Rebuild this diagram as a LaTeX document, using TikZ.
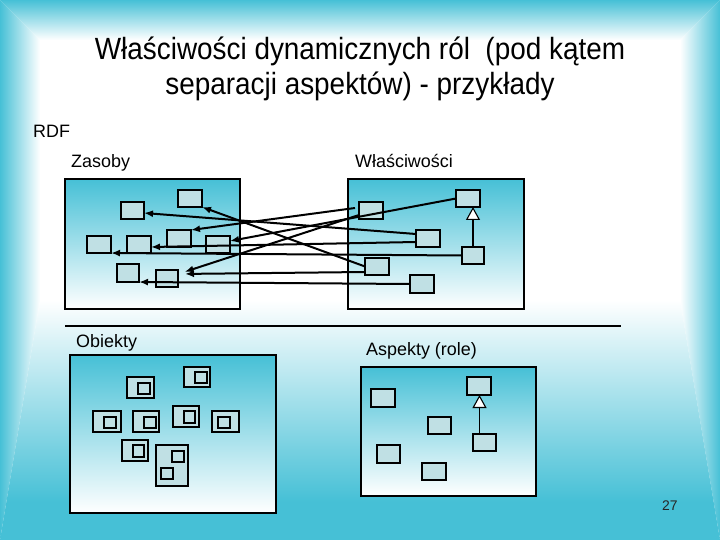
\documentclass[tikz,border=0pt]{standalone}
\usepackage{fontspec}
\setmainfont{Liberation Sans}
\usetikzlibrary{arrows.meta}
\definecolor{bgteal}{RGB}{70,192,214}
\definecolor{nodefill}{RGB}{192,224,228}
\pgfdeclareverticalshading{bottomramp}{100bp}{color(0bp)=(bgteal); color(25bp)=(bgteal); color(33bp)=(bgteal); color(75bp)=(white); color(100bp)=(white)}
\tikzset{
  panel/.style={draw=black, line width=1.2bp, top color=bgteal, middle color=bgteal!40!white, bottom color=white},
  nd/.style={draw=black, fill=nodefill, line width=1.1bp, inner sep=0pt, outer sep=0pt, minimum width=24bp, minimum height=17bp},
  conn/.style={line width=2bp, -{Latex[length=9bp,width=7bp]}},
  inh/.style={line width=1.1bp, -{Triangle[length=13bp,width=14bp,fill=white]}},
  lbl/.style={font=\fontsize{18}{21}\selectfont, inner sep=0pt, anchor=base west},
  ttl/.style={font=\fontsize{28}{34}\selectfont, inner sep=0pt, anchor=base}
}
\begin{document}
\begin{tikzpicture}[x=1bp,y=-1bp]
\useasboundingbox (0,0) rectangle (720,540);
% background (rectangular gradient)
\fill[white] (0,0) rectangle (720,540);
\shade[top color=bgteal,bottom color=white] (0,0)--(720,0)--(680,40)--(40,40)--cycle;
\shade[left color=bgteal,right color=white] (0,0)--(40,40)--(40,300)--(0,540)--cycle;
\shade[left color=white,right color=bgteal] (720,0)--(680,40)--(680,300)--(720,540)--cycle;
\shade[shading=bottomramp] (0,540)--(40,300)--(680,300)--(720,540)--cycle;

% title
\node[ttl] (title1) at (360,60) {\scalebox{1}[1.1]{Właściwości dynamicznych ról\ \ (pod kątem}};
\node[ttl] (title2) at (360,95) {\scalebox{1}[1.1]{separacji aspektów) - przykłady}};

% labels
\node[lbl] (rdf) at (33,138) {RDF};
\node[lbl] (zasoby) at (71,168) {Zasoby};
\node[lbl] (wlasc) at (355,168) {Właściwości};
\node[lbl] (obiekty) at (76,347) {Obiekty};
\node[lbl] (aspekty) at (366,355) {Aspekty (role)};
\node[font=\fontsize{14}{16}\selectfont, inner sep=0pt, anchor=base west, text=black!85] (pagenum) at (662,510) {27};

% panels
\path[panel] (65,179) rectangle (240,309);
\path[panel] (348,179) rectangle (524,309);
\path[panel] (70,355) rectangle (276,513);
\path[panel] (361,367) rectangle (536,496);

% divider
\coordinate (divL) at (65,326);
\coordinate (divR) at (621,326);
\draw[line width=1.1bp] (divL) -- (divR);

% upper left nodes (Zasoby)
\node[nd] (N1) at (190,198.5) {};
\node[nd, minimum width=23bp] (N2) at (132.5,210.5) {};
\node[nd] (N3) at (179,238.5) {};
\node[nd] (N4) at (99,244.5) {};
\node[nd] (N5) at (139,244.5) {};
\node[nd] (N6) at (218,244.5) {};
\node[nd, minimum width=22bp, minimum height=18bp] (N7) at (128,273) {};
\node[nd, minimum width=22bp] (N8) at (167,278.5) {};

% upper right nodes (Wlasciwosci)
\node[nd] (R1) at (371,210.5) {};
\node[nd] (R2) at (468,198.5) {};
\node[nd] (R3) at (428,238.5) {};
\node[nd, minimum width=22bp] (R4) at (473,255.5) {};
\node[nd] (R5) at (377,266.5) {};
\node[nd, minimum height=18bp] (R6) at (422,284) {};

% arrows
\draw[conn] (R5.west) -- (N1.south east);
\draw[conn] ([yshift=4.5bp]R3.west) -- ([yshift=-2.5bp]N2.east);
\draw[conn] ([xshift=-4bp,yshift=2.5bp]R1.west) -- (N3.north east);
\draw[conn] (R2.west) -- ([yshift=3.5bp]N6.east);
\draw[conn] ([yshift=-3.5bp]R3.west) -- ([yshift=-2.5bp]N5.east);
\draw[conn] (R4.west) -- (N4.south east);
\draw[conn, shorten >=7bp] ([yshift=-5.5bp]R5.west) -- ([yshift=4.5bp]N8.east);
\draw[conn, shorten >=7bp] ([yshift=-4.5bp]R1.west) -- ([yshift=4.5bp]N8.east);
\draw[conn] (R6.west) -- (N7.south east);
\draw[inh] (R4.north) -- (R4.north |- R2.south);

% lower left nodes (Obiekty)
\node[nd, minimum width=27bp, minimum height=21bp] (O1) at (140.5,387.5) {};
\node[nd, minimum width=12bp, minimum height=11bp] (O1i) at (144,388.5) {};
\node[nd, minimum width=26bp, minimum height=20bp] (O2) at (197,377) {};
\node[nd, minimum width=12bp, minimum height=11bp] (O2i) at (201,377.5) {};
\node[nd, minimum width=28bp, minimum height=21bp] (O3) at (107,421.5) {};
\node[nd, minimum width=12bp, minimum height=11bp] (O3i) at (110,422.5) {};
\node[nd, minimum width=26bp, minimum height=21bp] (O4) at (146,421.5) {};
\node[nd, minimum width=12bp, minimum height=11bp] (O4i) at (150,422.5) {};
\node[nd, minimum width=26bp, minimum height=21bp] (O5) at (186,416.5) {};
\node[nd, minimum width=11bp, minimum height=12bp] (O5i) at (189.5,417) {};
\node[nd, minimum width=27bp, minimum height=21bp] (O6) at (225.5,421.5) {};
\node[nd, minimum width=12bp, minimum height=11bp] (O6i) at (224,422.5) {};
\node[nd, minimum width=26bp, minimum height=21bp] (O7) at (135,450.5) {};
\node[nd, minimum width=11bp, minimum height=12bp] (O7i) at (138.5,451) {};
\node[nd, minimum width=32bp, minimum height=41bp] (O8) at (172,465.5) {};
\node[nd, minimum width=12bp, minimum height=11bp] (O8a) at (178,456.5) {};
\node[nd, minimum width=12bp, minimum height=11bp] (O8b) at (167,473.5) {};

% lower right nodes (Aspekty)
\node[nd, minimum height=18bp] (A1) at (383,398) {};
\node[nd, minimum height=18bp] (A2) at (479,386) {};
\node[nd, minimum width=23bp] (A3) at (439.5,425.5) {};
\node[nd, minimum width=23bp] (A4) at (484.5,442.5) {};
\node[nd, minimum width=23bp, minimum height=18bp] (A5) at (388.5,454) {};
\node[nd] (A6) at (434,471.5) {};
\draw[inh] ([xshift=-5bp]A4.north) -- ([xshift=-5bp]A4.north |- A2.south);
\end{tikzpicture}
\end{document}
